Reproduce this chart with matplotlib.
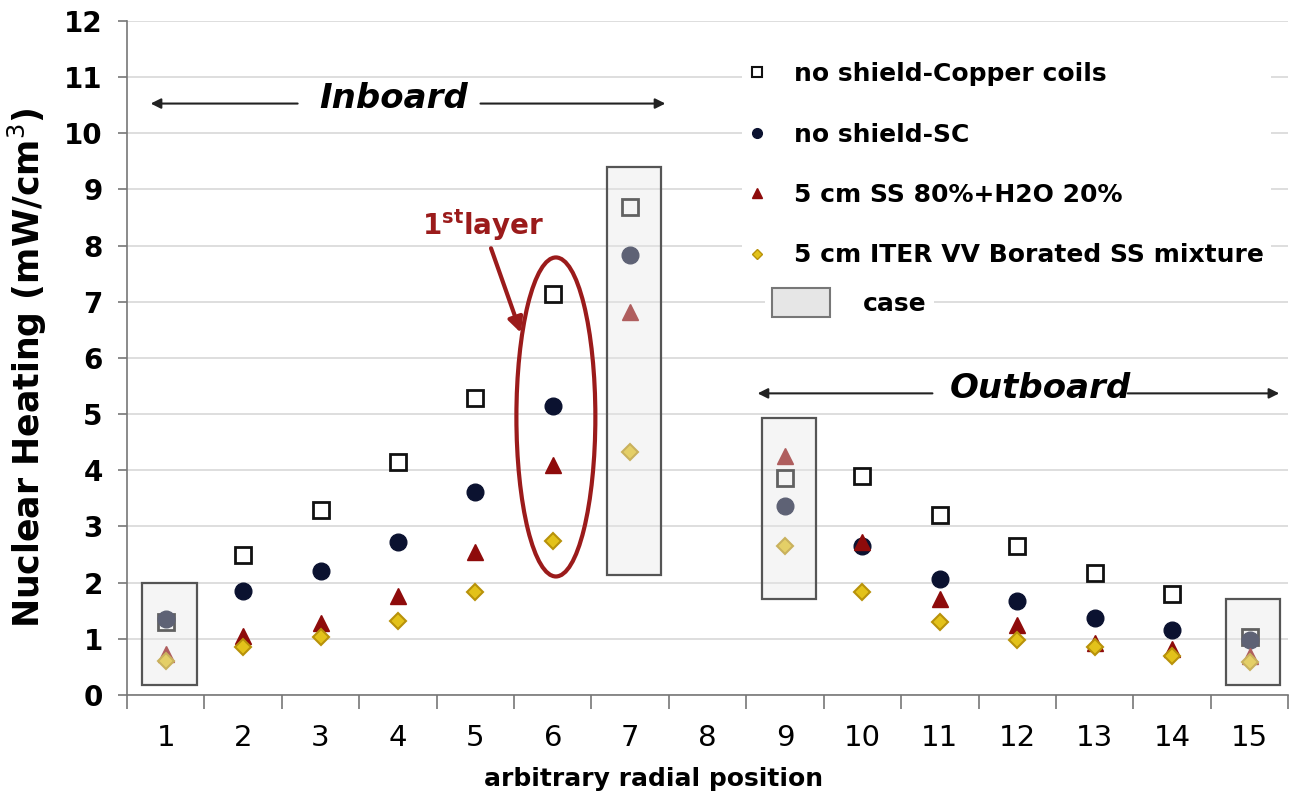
import numpy as np
import matplotlib.pyplot as plt
from matplotlib.lines import Line2D
from matplotlib.patches import Patch, Rectangle, Ellipse

plt.rcParams['font.family'] = ['DejaVu Sans']

positions = list(range(1, 16))
labels = ["no shield-Copper coils", "no shield-SC",
          "5 cm SS 80%+H2O 20%", "5 cm ITER VV Borated SS mixture"]

# nuclear heating, mW/cm3 (nan = no value at position 8)
copper = [1.30, 2.49, 3.30, 4.14, 5.28, 7.14, 8.69, np.nan, 3.87, 3.89, 3.21, 2.66, 2.18, 1.79, 1.03]
sc = [1.35, 1.85, 2.20, 2.73, 3.62, 5.15, 7.83, np.nan, 3.36, 2.66, 2.06, 1.67, 1.37, 1.15, 0.98]
ss_h2o = [0.73, 1.05, 1.28, 1.76, 2.54, 4.10, 6.82, np.nan, 4.25, 2.72, 1.71, 1.24, 0.92, 0.82, 0.70]
borated = [0.60, 0.85, 1.03, 1.31, 1.83, 2.74, 4.33, np.nan, 2.65, 1.83, 1.30, 0.98, 0.85, 0.69, 0.59]

# positions that sit inside a coil case, with the vertical extent of the case
case_pos = [1, 7, 9, 15]
case_lo = [0.18, 2.13, 1.70, 0.18]
case_hi = [1.99, 9.40, 4.93, 1.70]

fig = plt.figure(figsize=(12.96, 7.92), dpi=100)
ax = fig.add_axes([0.098, 0.1225, 0.896, 0.851])

ax.grid(axis='y', color='#d4d4d4', lw=1.1, zorder=0)
ax.set_axisbelow(True)

ax.plot(positions, copper, ls='none', marker='s', ms=12, mfc='white', mec='#111111', mew=2, zorder=3)
ax.plot(positions, sc, ls='none', marker='o', ms=12, mfc='#0b1230', mec='#0b1230', zorder=3)
ax.plot(positions, ss_h2o, ls='none', marker='^', ms=12, mfc='#8e0b0b', mec='#8e0b0b', zorder=3)
ax.plot(positions, borated, ls='none', marker='D', ms=8.5, mfc='#e3c21a', mec='#b8920a', mew=1.5, zorder=3)

for p, lo, hi in zip(case_pos, case_lo, case_hi):
    ax.add_patch(Rectangle((p - 0.3, lo), 0.7, hi - lo, facecolor='#e6e6e6', alpha=0.38,
                           edgecolor='none', zorder=4))
    ax.add_patch(Rectangle((p - 0.3, lo), 0.7, hi - lo, facecolor='none',
                           edgecolor='#555555', lw=1.6, zorder=4))

# first layer highlight
ax.add_patch(Ellipse((6.04, 4.95), 1.02, 5.68, fill=False, edgecolor='#9b1b1b', lw=3, zorder=5))
ax.text(5.1, 8.36, "1$^{\\mathregular{st}}$layer", color='#9b1b1b', fontsize=20,
        fontweight='bold', ha='center', va='center')
ax.annotate("", xy=(5.6, 6.4), xytext=(5.19, 8.0),
            arrowprops=dict(arrowstyle='-|>', color='#9b1b1b', lw=3, mutation_scale=22))

# inboard / outboard ranges
arrow = dict(arrowstyle='-|>', color='#222222', lw=1.5, mutation_scale=15)
ax.text(3.94, 10.62, "Inboard", fontsize=24.5, fontweight='bold', style='italic',
        ha='center', va='center')
ax.annotate("", xy=(0.77, 10.53), xytext=(2.74, 10.53), arrowprops=arrow)
ax.annotate("", xy=(7.49, 10.53), xytext=(5.03, 10.53), arrowprops=arrow)
ax.text(12.3, 5.46, "Outboard", fontsize=24.5, fontweight='bold', style='italic',
        ha='center', va='center')
ax.annotate("", xy=(8.61, 5.37), xytext=(10.94, 5.37), arrowprops=arrow)
ax.annotate("", xy=(15.42, 5.37), xytext=(13.39, 5.37), arrowprops=arrow)

ax.set_xlim(0.5, 15.5)
ax.set_ylim(0, 12)
ax.set_yticks(range(0, 13))
ax.set_xticks(positions)
ax.set_xticklabels([str(p) for p in positions], fontsize=21)
ax.set_xticks(np.arange(0.5, 15.6, 1), minor=True)
ax.tick_params(axis='x', which='major', length=0, pad=21)
ax.tick_params(axis='x', which='minor', length=10, width=1.2, color='#777777')
ax.tick_params(axis='y', length=6.5, width=1.2, color='#777777', pad=11, labelsize=20)
for t in ax.get_yticklabels():
    t.set_fontweight('bold')
for s in ['top', 'right']:
    ax.spines[s].set_visible(False)
for s in ['left', 'bottom']:
    ax.spines[s].set_color('#777777')
    ax.spines[s].set_linewidth(1.2)

ax.set_xlabel("arbitrary radial position", fontsize=18, fontweight='bold', va='center')
ax.xaxis.set_label_coords((653 - 127) / 1161, -(779 - 695) / 673)
ax.set_ylabel("Nuclear Heating (mW/cm$^3$)", fontsize=25, fontweight='bold', va='center')
ax.yaxis.set_label_coords((27 - 127) / 1161, (695 - 368) / 673)

handles = [
    Line2D([], [], ls='none', marker='s', ms=7, mfc='white', mec='#111111', mew=1.5),
    Line2D([], [], ls='none', marker='o', ms=7, mfc='#0b1230', mec='#0b1230'),
    Line2D([], [], ls='none', marker='^', ms=7, mfc='#8e0b0b', mec='#8e0b0b'),
    Line2D([], [], ls='none', marker='D', ms=5.5, mfc='#e3c21a', mec='#b8920a'),
]
leg = ax.legend(handles, labels, loc='upper left', bbox_to_anchor=(729 / 1296, 1 - 42 / 792),
                bbox_transform=fig.transFigure, prop=dict(size=18, weight='bold'),
                handlelength=0.6, handletextpad=1.18, labelspacing=1.46, borderpad=0.3,
                frameon=True, facecolor='white', edgecolor='none', framealpha=1)
ax.add_artist(leg)
ax.legend([Patch(facecolor='#e6e6e6', edgecolor='#777777', lw=1.5)], ["case"],
          loc='upper left', bbox_to_anchor=(752 / 1296, 1 - 268 / 792),
          bbox_transform=fig.transFigure, prop=dict(size=18, weight='bold'),
          handlelength=2.32, handleheight=1.4, handletextpad=1.3, borderpad=0.3,
          frameon=True, facecolor='white', edgecolor='none', framealpha=1)

fig.savefig("out.png", dpi=100)
